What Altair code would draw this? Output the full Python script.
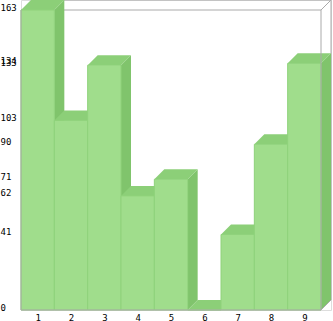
import altair as alt
import pandas as pd

categories = [1, 2, 3, 4, 5, 6, 7, 8, 9]
values = [163, 103, 133, 62, 71, 0, 41, 90, 134]
tick_values = [0, 41, 62, 71, 90, 103, 133, 134, 163]

DX = 0.3        # depth in x data units
DY = 163 * 10 / 300  # depth in y data units
YMAX = max(values)

FRONT = "#a0dd8c"
TOP = "#8ccf78"
SIDE = "#80c46c"
EDGE = "#8fd27b"
FRAME = "#aaaaaa"

front = pd.DataFrame({"cat": categories, "v": values,
                      "xl": [c - 0.5 for c in categories],
                      "xr": [c + 0.5 for c in categories]})

top_rows, side_rows = [], []
for c, v in zip(categories, values):
    xl, xr = c - 0.5, c + 0.5
    for x, y, y2 in [(xl, v, v), (xl + DX, v, v + DY), (xr, v, v + DY), (xr + DX, v + DY, v + DY)]:
        top_rows.append({"cat": c, "x": x, "y": y, "y2": y2})
    for x, y, y2 in [(xr, 0, v), (xr + DX, DY, v + DY)]:
        side_rows.append({"cat": c, "x": x, "y": y, "y2": y2})
top = pd.DataFrame(top_rows)
side = pd.DataFrame(side_rows)

x0, x1 = categories[0] - 0.5, categories[-1] + 0.5
xs = alt.Scale(domain=[x0, x1 + DX], nice=False, zero=False)
ys = alt.Scale(domain=[0, YMAX + DY], nice=False, zero=False)
font = "DejaVu Sans Mono"

x_axis = alt.Axis(values=categories, format="d", ticks=False, tickSize=0, domain=False, grid=False,
                  title=None, labelPadding=3, labelOverlap=False, labelFlush=False, labelBound=False)
y_axis = alt.Axis(values=tick_values, format="d", ticks=False, tickSize=0, domain=False, grid=False,
                  title=None, labelAlign="left", labelBaseline="alphabetic", labelPadding=21,
                  labelOverlap=False, labelBound=False, labelFlush=False)

X = lambda f: alt.X(f, scale=xs, axis=x_axis)
Y = lambda f: alt.Y(f, scale=ys, axis=y_axis)

# back frame lines (behind bars)
back_lines = pd.DataFrame([
    {"x": x0, "y": YMAX, "x2": x1, "y2": YMAX},
    {"x": x0 + DX, "y": YMAX + DY, "x2": x1 + DX, "y2": YMAX + DY},
    {"x": x1 + DX, "y": DY, "x2": x1 + DX, "y2": YMAX + DY},
    {"x": x1, "y": YMAX, "x2": x1 + DX, "y2": YMAX + DY},
])
front_lines = pd.DataFrame([
    {"x": x0, "y": 0, "x2": x1, "y2": 0},
    {"x": x0, "y": 0, "x2": x0, "y2": YMAX},
    {"x": x1, "y": 0, "x2": x1, "y2": YMAX},
    {"x": x1, "y": 0, "x2": x1 + DX, "y2": DY},
])

base_back = alt.Chart(back_lines).mark_rule(color=FRAME, strokeWidth=1).encode(
    x=X("x:Q"), x2="x2:Q", y=Y("y:Q"), y2="y2:Q")

sides = alt.Chart(side).mark_area(color=SIDE, interpolate="linear").encode(
    x=X("x:Q"), y=Y("y:Q"), y2="y2:Q", detail="cat:N")

tops = alt.Chart(top).mark_area(color=TOP, interpolate="linear").encode(
    x=X("x:Q"), y=Y("y:Q"), y2="y2:Q", detail="cat:N")

fronts = alt.Chart(front).mark_rect(color=FRONT, stroke=EDGE, strokeWidth=1).encode(
    x=X("xl:Q"), x2="xr:Q", y=Y("v:Q"), y2=alt.datum(0))

base_front = alt.Chart(front_lines).mark_rule(color=FRAME, strokeWidth=1).encode(
    x=X("x:Q"), x2="x2:Q", y=Y("y:Q"), y2="y2:Q")

chart = alt.layer(base_back, sides, tops, fronts, base_front).properties(
    width=310, height=310,
    autosize=alt.AutoSizeParams(type="none"),
    padding={"left": 21, "top": 0, "right": 2, "bottom": 11},
).configure_view(stroke=None).configure(background="#ffffff").configure_axis(
    labelOverlap=False, labelFont=font, labelFontSize=9, labelColor="#000000"
)

chart.save("out.html", embed_options={"renderer": "svg", "actions": False})
